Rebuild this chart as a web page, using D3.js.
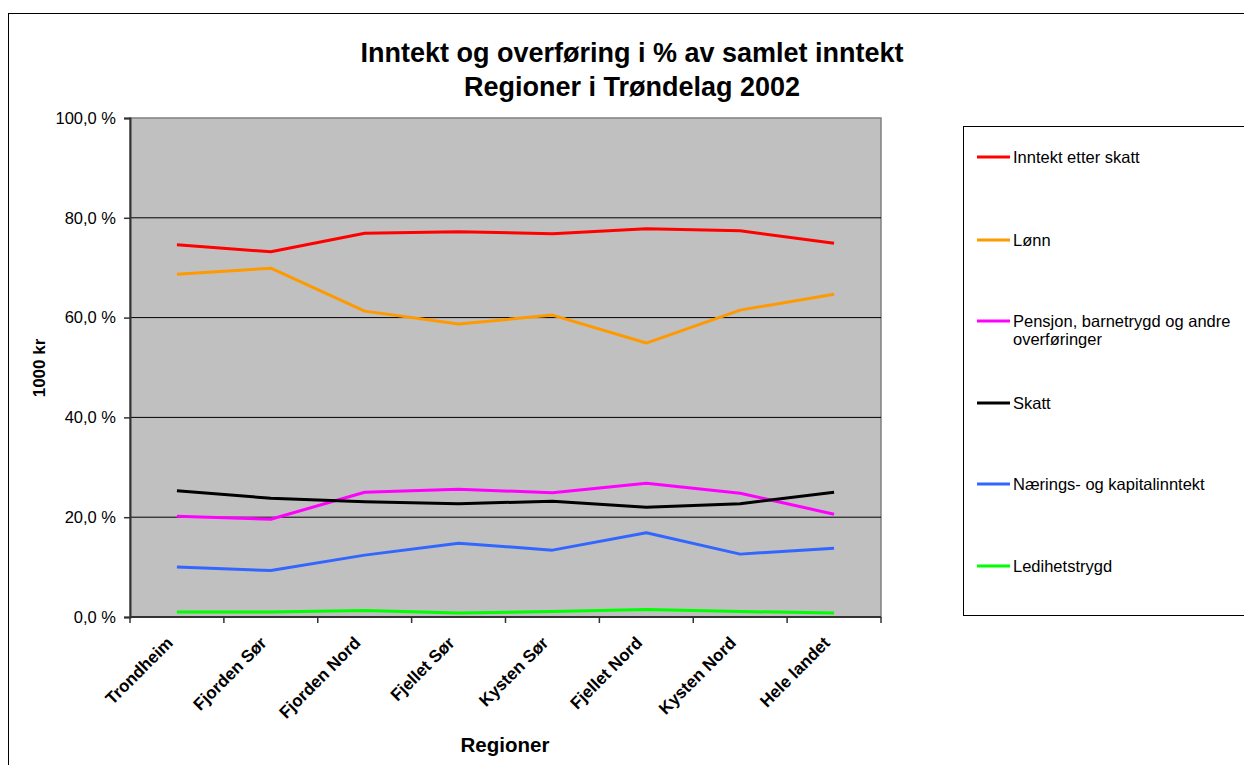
<!DOCTYPE html>
<html>
<head>
<meta charset="utf-8">
<script src="https://cdn.jsdelivr.net/npm/d3@7"></script>
<style>
  body { margin: 0; background: #fff; }
  text { font-family: "Liberation Sans", Arial, sans-serif; }
</style>
</head>
<body>
<div id="chart"></div>
<script>
// regions along the x axis
var regions = ["Trondheim", "Fjorden Sør", "Fjorden Nord", "Fjellet Sør", "Kysten Sør", "Fjellet Nord", "Kysten Nord", "Hele landet"];

// series values, % of total income
var inntektEtterSkatt = [74.6, 73.2, 76.9, 77.2, 76.8, 77.8, 77.4, 74.9];
var lonn              = [68.7, 69.9, 61.3, 58.7, 60.5, 54.9, 61.5, 64.7];
var pensjon           = [20.2, 19.6, 25.0, 25.6, 24.9, 26.8, 24.8, 20.6];
var skatt             = [25.3, 23.8, 23.1, 22.7, 23.2, 22.0, 22.7, 25.0];
var naering           = [10.0,  9.3, 12.4, 14.8, 13.4, 16.9, 12.6, 13.8];
var ledighet          = [ 1.0,  1.0,  1.3,  0.8,  1.1,  1.5,  1.1,  0.8];

var seriesNames = ["Inntekt etter skatt", "Lønn", "Pensjon, barnetrygd og andre|overføringer", "Skatt", "Nærings- og kapitalinntekt", "Ledihetstrygd"];
var seriesColors = ["#ff0000", "#ff9900", "#ff00ff", "#000000", "#3366ff", "#00ff00"];
var yTicks = [0, 20, 40, 60, 80, 100];

var series = [inntektEtterSkatt, lonn, pensjon, skatt, naering, ledighet];

var width = 1244, height = 765;
var plot = {left: 130, right: 881, top: 118, bottom: 617};

var svg = d3.select("#chart").append("svg")
	.attr("width", width)
	.attr("height", height);

// outer chart border
svg.append("rect")
	.attr("x", 8.5).attr("y", 13.5)
	.attr("width", 1260).attr("height", 800)
	.attr("fill", "#fff").attr("stroke", "#000").attr("stroke-width", 1);

var x = d3.scaleBand().domain(regions).range([plot.left, plot.right]);
var y = d3.scaleLinear().domain([0, 100]).range([plot.bottom, plot.top]);

// plot background
svg.append("rect")
	.attr("x", plot.left).attr("y", plot.top)
	.attr("width", plot.right - plot.left).attr("height", plot.bottom - plot.top)
	.attr("fill", "#c0c0c0")
	.attr("stroke", "#808080").attr("stroke-width", 1.5);

// gridlines
svg.append("g")
	.selectAll("line")
	.data(yTicks.filter(function(d){ return d > 0 && d < 100; }))
	.enter().append("line")
	.attr("x1", plot.left).attr("x2", plot.right)
	.attr("y1", function(d){ return y(d); })
	.attr("y2", function(d){ return y(d); })
	.attr("stroke", "#000").attr("stroke-width", 1);

// y axis
var yAxis = d3.axisLeft(y)
	.tickValues(yTicks)
	.tickSize(6)
	.tickFormat(function(d){ return d3.format(".1f")(d).replace(".", ",") + " %"; });

var gy = svg.append("g")
	.attr("transform", "translate(" + plot.left + ",0)")
	.call(yAxis);
gy.select(".domain").attr("stroke", "#333").attr("stroke-width", 2);
gy.selectAll(".tick line").attr("stroke", "#333").attr("stroke-width", 1.5);
gy.selectAll(".tick text")
	.attr("x", -14)
	.attr("font-size", 16.5)
	.attr("fill", "#000")
	.style("font-family", "Liberation Sans, Arial, sans-serif");

// x axis: ticks sit between categories
var boundaries = d3.range(regions.length + 1).map(function(i){ return plot.left + i * x.step(); });
var gx = svg.append("g");
gx.append("line")
	.attr("x1", plot.left).attr("x2", plot.right)
	.attr("y1", plot.bottom).attr("y2", plot.bottom)
	.attr("stroke", "#333").attr("stroke-width", 2);
gx.selectAll(".tk")
	.data(boundaries)
	.enter().append("line")
	.attr("class", "tk")
	.attr("x1", function(d){ return d; }).attr("x2", function(d){ return d; })
	.attr("y1", plot.bottom).attr("y2", plot.bottom + 6)
	.attr("stroke", "#333").attr("stroke-width", 1.5);

gx.selectAll(".xl")
	.data(regions)
	.enter().append("text")
	.attr("class", "xl")
	.attr("transform", function(d){
		var cx = x(d) + x.bandwidth() / 2 - 3;
		return "translate(" + cx + "," + (plot.bottom + 27) + ") rotate(-45)";
	})
	.attr("text-anchor", "end")
	.attr("font-size", 17)
	.attr("font-weight", "bold")
	.text(function(d){ return d; });

// lines
var line = d3.line()
	.x(function(d, i){ return x(regions[i]) + x.bandwidth() / 2; })
	.y(function(d){ return y(d); });

svg.append("g")
	.selectAll("path")
	.data(series)
	.enter().append("path")
	.attr("d", line)
	.attr("fill", "none")
	.attr("stroke", function(d, i){ return seriesColors[i]; })
	.attr("stroke-width", 3)
	.attr("stroke-linejoin", "round");

// titles
svg.append("text")
	.attr("x", 632).attr("y", 62)
	.attr("text-anchor", "middle")
	.attr("font-size", 27).attr("font-weight", "bold")
	.text("Inntekt og overføring i % av samlet inntekt");
svg.append("text")
	.attr("x", 632).attr("y", 96)
	.attr("text-anchor", "middle")
	.attr("font-size", 27).attr("font-weight", "bold")
	.text("Regioner i Trøndelag 2002");

svg.append("text")
	.attr("transform", "translate(45," + 368 + ") rotate(-90)")
	.attr("text-anchor", "middle")
	.attr("font-size", 17).attr("font-weight", "bold")
	.text("1000 kr");

svg.append("text")
	.attr("x", 505).attr("y", 752)
	.attr("text-anchor", "middle")
	.attr("font-size", 20.5).attr("font-weight", "bold")
	.text("Regioner");

// legend
svg.append("rect")
	.attr("x", 963.5).attr("y", 126.5)
	.attr("width", 320).attr("height", 489)
	.attr("fill", "#fff").attr("stroke", "#000").attr("stroke-width", 1);

var legendY = [157, 240, 321, 403, 484, 566];
var lg = svg.append("g")
	.selectAll("g")
	.data(seriesNames)
	.enter().append("g")
	.attr("transform", function(d, i){ return "translate(977," + legendY[i] + ")"; });
lg.append("line")
	.attr("x1", 0).attr("x2", 33)
	.attr("y1", 0).attr("y2", 0)
	.attr("stroke", function(d, i){ return seriesColors[i]; })
	.attr("stroke-width", 3);
lg.each(function(d){
	var t = d3.select(this).append("text")
		.attr("x", 36).attr("y", 6)
		.attr("font-size", 16.5);
	d.split("|").forEach(function(part, j){
		t.append("tspan").attr("x", 36).attr("dy", j === 0 ? 0 : 18).text(part);
	});
});
</script>
</body>
</html>
